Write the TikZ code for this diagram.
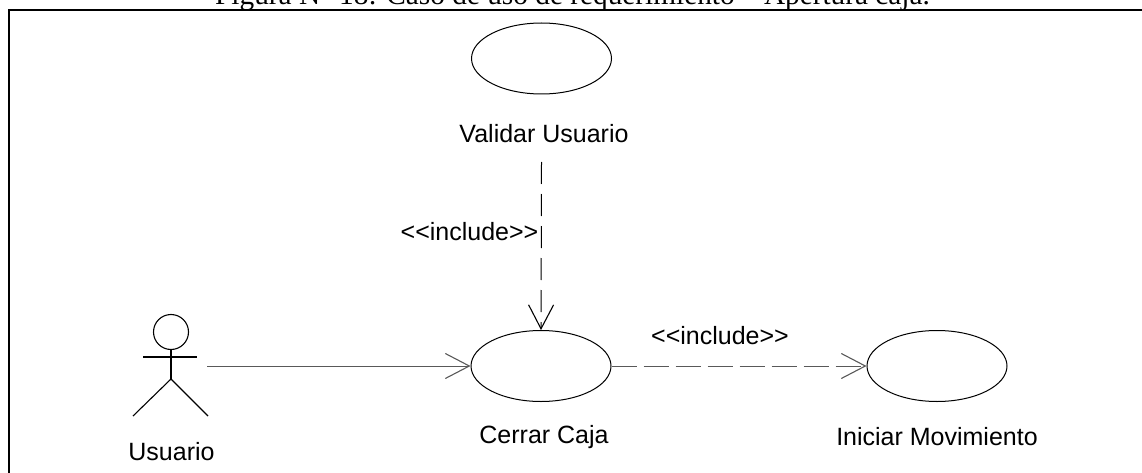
\documentclass[tikz,border=0pt]{standalone}
\usepackage{fontspec}
\setmainfont{Liberation Sans}
\newfontfamily\capfont{Liberation Serif}
\usetikzlibrary{shapes.geometric,arrows.meta}
\tikzset{
  usecase/.style={draw,ellipse,minimum width=140pt,minimum height=71pt,inner sep=0pt,line width=1pt},
  lbl/.style={inner sep=0pt,font=\fontsize{25}{27}\selectfont},
  conn/.style={-{Straight Barb[length=24pt,width=25pt,line width=1.1pt]},line width=1pt},
  vdep/.style={conn,dash pattern=on 22pt off 10pt},
  hdep/.style={conn,dash pattern=on 25pt off 7pt,black!65},
  stick/.style={line width=1.1pt},
  frameline/.style={line width=1.8pt}
}
\begin{document}
\begin{tikzpicture}[x=1pt,y=-1pt]
\useasboundingbox (0,0) rectangle (1142,473);
\begin{scope}
\clip (0,0) rectangle (1142,473);
\node[anchor=base west,inner sep=0pt,font=\capfont\fontsize{29.3}{31}\selectfont] (caption) at (215,5) {Figura N° 18: Caso de uso de requerimiento – Apertura caja.};
\end{scope}
\coordinate (fa) at (9,473);
\coordinate (fb) at (9,10);
\coordinate (fc) at (1142,10);
\draw[frameline] (fa) -- (fb) -- (fc);
\node[usecase] (validar) at (541.5,58.5) {};
\node[usecase] (cerrar) at (541,366) {};
\node[usecase] (iniciar) at (937,366) {};
\node[lbl] (lvalidar) at (544,134) {Validar Usuario};
\node[lbl] (lcerrar) at (544,437) {Cerrar Caja};
\node[lbl] (liniciar) at (937,437) {Iniciar Movimiento};
\node[lbl] (lusuario) at (171.5,452) {Usuario};
\node[lbl] (inc1) at (469.5,232) {{<}{<}include{>}{>}};
\node[lbl] (inc2) at (720,336) {{<}{<}include{>}{>}};
% actor
\node[draw,circle,minimum size=35pt,inner sep=0pt,stick] (head) at (171,332) {};
\coordinate (armL) at (143,357);
\coordinate (armR) at (197,357);
\coordinate (hip) at (171,379);
\coordinate (legL) at (133,416);
\coordinate (legR) at (208,416);
\draw[stick] (head.south) -- (hip);
\draw[line width=1.6pt] (armL) -- (armR);
\draw[stick] (legL) -- (hip) -- (legR);
% connectors
\coordinate (actorEnd) at (207,366);
\coordinate (vstart) at (541.5,162);
\draw[conn,black!65] (actorEnd) -- (cerrar.west);
\draw[vdep] (vstart) -- (cerrar.north);
\draw[hdep] (cerrar.east) -- (iniciar.west);
\end{tikzpicture}
\end{document}
